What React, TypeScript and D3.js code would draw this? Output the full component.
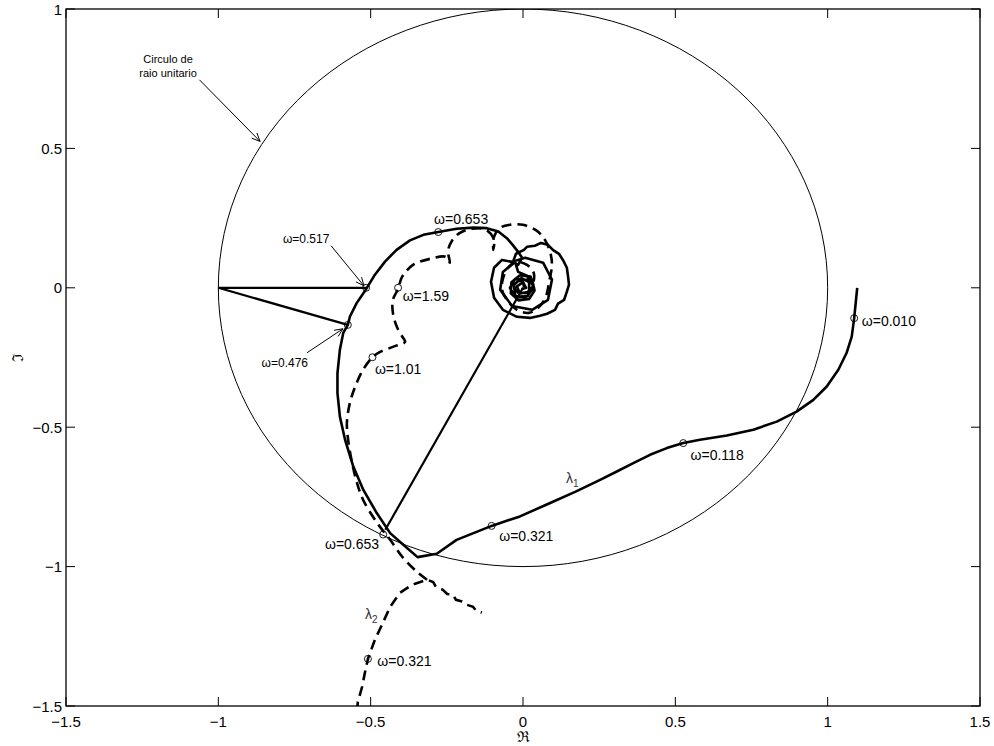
import * as d3 from "d3";

const W = 994;
const H = 746;
const margin = { left: 66, right: 14, top: 9, bottom: 40 };

const xTicks = [-1.5, -1, -0.5, 0, 0.5, 1, 1.5];
const yTicks = [-1.5, -1, -0.5, 0, 0.5, 1];

// lambda_1 (solid)
const lambda1: [number, number][] = [
  [1.097, 0], [1.087, -0.109], [1.079, -0.175], [1.062, -0.234], [1.035, -0.294],
  [0.997, -0.354], [0.953, -0.402], [0.898, -0.444], [0.833, -0.48], [0.756, -0.509],
  [0.669, -0.53], [0.581, -0.545], [0.526, -0.557], [0.472, -0.575], [0.417, -0.599],
  [0.362, -0.629], [0.308, -0.659], [0.253, -0.689], [0.171, -0.732], [0.089, -0.772],
  [-0.01, -0.82], [-0.103, -0.854], [-0.218, -0.904], [-0.283, -0.954], [-0.346, -0.966],
  [-0.393, -0.922], [-0.436, -0.88], [-0.48, -0.808], [-0.524, -0.725], [-0.557, -0.641],
  [-0.584, -0.545], [-0.601, -0.462], [-0.609, -0.378], [-0.609, -0.306], [-0.601, -0.222],
  [-0.59, -0.162], [-0.575, -0.133], [-0.568, -0.103], [-0.546, -0.055], [-0.515, -0.005],
  [-0.486, 0.047], [-0.453, 0.094], [-0.415, 0.136], [-0.371, 0.17], [-0.327, 0.19],
  [-0.278, 0.2], [-0.218, 0.212], [-0.163, 0.216], [-0.119, 0.214], [-0.081, 0.202],
  [-0.053, 0.178], [-0.034, 0.154], [-0.016, 0.129], [-0.003, 0.108], [-0.016, 0.082],
  [-0.033, 0.093], [-0.023, 0.122], [0.003, 0.136], [0.013, 0.147], [0.039, 0.151],
  [0.059, 0.161], [0.082, 0.154], [0.098, 0.136], [0.118, 0.122], [0.131, 0.1],
  [0.144, 0.072], [0.148, 0.039], [0.151, 0.011], [0.144, -0.014], [0.135, -0.043],
  [0.115, -0.057], [0.105, -0.079], [0.079, -0.093], [0.056, -0.1], [0.023, -0.108],
  [-0.02, -0.104], [-0.066, -0.079], [-0.095, -0.036], [-0.105, 0.022], [-0.095, 0.072],
  [-0.069, 0.1], [-0.036, 0.093], [0.007, 0.108], [0.066, 0.09], [0.095, 0.029],
  [0.082, -0.043], [0.03, -0.079], [-0.036, -0.065], [-0.075, -0.007], [-0.066, 0.057],
  [-0.026, 0.093], [-0.016, 0.057], [0.013, 0.043], [0.033, 0.007],
  [0.016, -0.029], [-0.023, -0.036], [-0.043, 0], [-0.026, 0.032], [0.007, 0.029],
  [0.03, 0.03], [0.038, -0.01], [0.02, -0.04], [-0.015, -0.045], [-0.04, -0.02],
  [-0.038, 0.02], [-0.01, 0.045], [0.025, 0.04], [0.035, 0.0], [0.01, -0.035],
  [-0.025, -0.03], [-0.03, 0.01], [-0.005, 0.035], [0.02, 0.02], [0.02, -0.015],
  [-0.01, -0.02], [-0.02, 0.005], [0, 0.02], [0.01, 0], [-0.005, -0.005],
];

// lambda_2 (dashed), lower branch with the staircase
const lambda2Low: [number, number][] = [
  [-0.545, -1.52], [-0.542, -1.485], [-0.528, -1.431], [-0.519, -1.381], [-0.509, -1.331],
  [-0.486, -1.262], [-0.463, -1.209], [-0.436, -1.144], [-0.404, -1.094], [-0.364, -1.065],
  [-0.315, -1.047], [-0.295, -1.055], [-0.286, -1.073], [-0.263, -1.083], [-0.249, -1.098],
  [-0.23, -1.101], [-0.22, -1.119], [-0.197, -1.126], [-0.184, -1.137], [-0.164, -1.144],
  [-0.154, -1.158], [-0.135, -1.165],
];

// lambda_2 (dashed), upper branch into the knot
const lambda2High: [number, number][] = [
  [-0.315, -1.047], [-0.348, -1.019], [-0.394, -0.968], [-0.436, -0.904], [-0.479, -0.843],
  [-0.525, -0.76], [-0.545, -0.699], [-0.561, -0.628], [-0.574, -0.545], [-0.578, -0.484],
  [-0.568, -0.412], [-0.551, -0.355], [-0.525, -0.294], [-0.494, -0.249], [-0.469, -0.23],
  [-0.427, -0.212], [-0.387, -0.194], [-0.394, -0.179], [-0.414, -0.14], [-0.427, -0.09],
  [-0.427, -0.043], [-0.41, -0.004], [-0.397, 0.039], [-0.361, 0.082], [-0.305, 0.104],
  [-0.253, 0.111], [-0.24, 0.09], [-0.246, 0.133], [-0.233, 0.169], [-0.207, 0.197],
  [-0.167, 0.212], [-0.121, 0.208], [-0.095, 0.172], [-0.098, 0.136], [-0.095, 0.183],
  [-0.075, 0.215], [-0.043, 0.226], [0, 0.226], [0.046, 0.204], [0.072, 0.172],
  [0.089, 0.129], [0.095, 0.082], [0.085, 0.018], [0.075, -0.032], [0.053, -0.068],
  [0.02, -0.09], [-0.02, -0.079], [-0.053, -0.043], [-0.069, -0.007], [-0.066, 0.032],
  [-0.049, 0.072], [-0.023, 0.093], [0.013, 0.082], [0.036, 0.05], [0.023, -0.007],
  [-0.01, -0.022], [-0.03, 0.011], [-0.003, 0.025], [0.003, 0],
];

// straight construction lines
const segments: [number, number, number, number][] = [
  [-1, 0, -0.515, 0],
  [-1, 0, -0.575, -0.133],
  [0, 0, -0.452, -0.868],
];

// frequency markers
const markers: [number, number][] = [
  [1.087, -0.109], [0.526, -0.557], [-0.103, -0.854], [-0.459, -0.885], [-0.575, -0.133],
  [-0.515, 0], [-0.278, 0.2], [-0.41, 0], [-0.494, -0.249], [-0.509, -1.331],
];

type Label = { text: string; x: number; y: number; size: number; anchor?: string };
const labels: Label[] = [
  { text: "ω=0.517", x: -0.788, y: 0.176, size: 12 },
  { text: "ω=0.476", x: -0.858, y: -0.268, size: 12 },
  { text: "ω=0.653", x: -0.292, y: 0.247, size: 14 },
  { text: "ω=1.59", x: -0.395, y: -0.031, size: 14 },
  { text: "ω=1.01", x: -0.486, y: -0.292, size: 14 },
  { text: "ω=0.653", x: -0.65, y: -0.919, size: 14 },
  { text: "ω=0.321", x: -0.078, y: -0.892, size: 14 },
  { text: "ω=0.118", x: 0.55, y: -0.599, size: 14 },
  { text: "ω=0.010", x: 1.112, y: -0.118, size: 14 },
  { text: "ω=0.321", x: -0.478, y: -1.338, size: 14 },
  { text: "Circulo de", x: -1.165, y: 0.82, size: 11, anchor: "middle" },
  { text: "raio unitario", x: -1.165, y: 0.772, size: 11, anchor: "middle" },
];

const lambdaLabels: [string, string, number, number][] = [
  ["λ", "1", 0.141, -0.681],
  ["λ", "2", -0.519, -1.169],
];

const arrows: [number, number, number, number][] = [
  [-1.062, 0.746, -0.863, 0.525],
  [-0.63, 0.151, -0.522, 0.007],
  [-0.709, -0.233, -0.591, -0.147],
];

const FONT = "'Liberation Sans', Arial, Helvetica, sans-serif";

export default function App() {
  const x = d3.scaleLinear().domain([-1.5, 1.5]).range([margin.left, W - margin.right]);
  const y = d3.scaleLinear().domain([-1.5, 1]).range([H - margin.bottom, margin.top]);
  const smooth = d3
    .line<[number, number]>()
    .x((d) => x(d[0]))
    .y((d) => y(d[1]))
    .curve(d3.curveCatmullRom.alpha(0.5));
  const line = d3.line<[number, number]>().x((d) => x(d[0])).y((d) => y(d[1]));
  const x0 = x.range()[0];
  const x1 = x.range()[1];
  const y0 = y.range()[1];
  const y1 = y.range()[0];

  const arrowHead = (a: number[]) => {
    const sx = x(a[0]), sy = y(a[1]), ex = x(a[2]), ey = y(a[3]);
    const ang = Math.atan2(ey - sy, ex - sx);
    const len = 9, spread = 0.42;
    const p1 = [ex - len * Math.cos(ang - spread), ey - len * Math.sin(ang - spread)];
    const p2 = [ex - len * Math.cos(ang + spread), ey - len * Math.sin(ang + spread)];
    return `M${p1[0]},${p1[1]}L${ex},${ey}L${p2[0]},${p2[1]}`;
  };

  return (
    <svg width={W} height={H} style={{ position: "fixed", left: 0, top: 0, background: "#fff" }} fontFamily={FONT}>
      <defs>
        <clipPath id="plot">
          <rect x={x0} y={y0} width={x1 - x0} height={y1 - y0} />
        </clipPath>
      </defs>
      <rect x={0} y={0} width={W} height={H} fill="#fff" />

      <g clipPath="url(#plot)" fill="none" stroke="#000">
        <ellipse cx={x(0)} cy={y(0)} rx={x(1) - x(0)} ry={y(0) - y(1)} strokeWidth={1} />
        {segments.map((s, i) => (
          <line key={i} x1={x(s[0])} y1={y(s[1])} x2={x(s[2])} y2={y(s[3])} strokeWidth={2.2} />
        ))}
        <path d={line(lambda1) ?? ""} strokeWidth={2.6} strokeLinejoin="round" />
        <path d={smooth(lambda2High) ?? ""} strokeWidth={2.6} strokeDasharray="10,6" />
        <path d={line(lambda2Low) ?? ""} strokeWidth={2.6} strokeDasharray="10,6" />
        {markers.map((m, i) => (
          <circle key={i} cx={x(m[0])} cy={y(m[1])} r={3.5} strokeWidth={0.9} />
        ))}
        {arrows.map((a, i) => (
          <g key={i} strokeWidth={1}>
            <line x1={x(a[0])} y1={y(a[1])} x2={x(a[2])} y2={y(a[3])} />
            <path d={arrowHead(a)} />
          </g>
        ))}
      </g>

      {labels.map((l, i) => (
        <text key={i} x={x(l.x)} y={y(l.y)} fontSize={l.size} dominantBaseline="central" textAnchor={l.anchor ?? "start"} fill="#000">
          {l.text}
        </text>
      ))}
      {lambdaLabels.map((l, i) => (
        <text key={i} x={x(l[2])} y={y(l[3])} fontSize={14} fill="#333" dominantBaseline="central">
          {l[0]}
          <tspan fontSize={10} dy={5}>{l[1]}</tspan>
        </text>
      ))}

      {/* axes box */}
      <rect x={x0} y={y0} width={x1 - x0} height={y1 - y0} fill="none" stroke="#000" strokeWidth={1.3} />
      {xTicks.map((t) => (
        <g key={"x" + t}>
          <line x1={x(t)} x2={x(t)} y1={y1} y2={y1 - 9} stroke="#000" />
          <line x1={x(t)} x2={x(t)} y1={y0} y2={y0 + 9} stroke="#000" />
          <text x={x(t)} y={y1 + 15} fontSize={15} textAnchor="middle" dominantBaseline="central">
            {t < 0 ? "\u2212" + Math.abs(t) : String(t)}
          </text>
        </g>
      ))}
      {yTicks.map((t) => (
        <g key={"y" + t}>
          <line x1={x0} x2={x0 + 9} y1={y(t)} y2={y(t)} stroke="#000" />
          <line x1={x1} x2={x1 - 9} y1={y(t)} y2={y(t)} stroke="#000" />
          <text x={x0 - 4} y={y(t)} fontSize={15} textAnchor="end" dominantBaseline="central">
            {t < 0 ? "\u2212" + Math.abs(t) : String(t)}
          </text>
        </g>
      ))}
      <text x={(x0 + x1) / 2} y={H - 9} fontSize={15} textAnchor="middle" dominantBaseline="central" fontFamily="'DejaVu Serif', serif">
        ℜ
      </text>
      <text transform={`translate(18,${(y0 + y1) / 2}) rotate(-90)`} fontSize={15} textAnchor="middle" dominantBaseline="central" fontFamily="'DejaVu Serif', serif">
        ℑ
      </text>
    </svg>
  );
}
